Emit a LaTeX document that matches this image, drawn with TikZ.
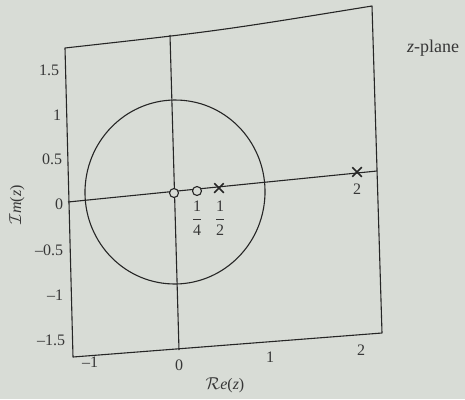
\documentclass[tikz,border=0pt]{standalone}
\usepackage{amsmath}
\usepackage{fontspec}
\setmainfont{Liberation Serif}
\usetikzlibrary{shapes.misc}
\definecolor{bgcol}{RGB}{216,220,214}
\definecolor{inkcol}{RGB}{38,38,38}
\definecolor{txtcol}{RGB}{55,55,55}
\begin{document}
\begin{tikzpicture}[x=1pt,y=-1pt,
  ink/.style={draw=inkcol,line width=1.1pt},
  lbl/.style={text=txtcol,font=\fontsize{16}{19}\selectfont,inner sep=0pt},
  zeromark/.style={circle,draw=inkcol,line width=1.1pt,fill=bgcol,minimum size=9pt,inner sep=0pt},
  polemark/.style={cross out,draw=inkcol,line width=1.5pt,minimum size=8pt,inner sep=0pt}]
\fill[bgcol] (0,0) rectangle (465,399);
\useasboundingbox (0,0) rectangle (465,399);
% frame corners
\coordinate (tl) at (65,48);
\coordinate (tr) at (372,6);
\coordinate (br) at (382,333);
\coordinate (bl) at (73,357);
\draw[ink,line join=round] (tl) .. controls (218,31) .. (tr) -- (br) -- (bl) -- cycle;
% axes
\coordinate (vt) at (170,35);
\coordinate (vb) at (179,350);
\coordinate (hl) at (68,202);
\coordinate (hr) at (377,171);
\draw[ink] (vt) -- (vb);
\draw[ink] (hl) -- (hr);
% unit circle
\draw[ink] (175,192) ellipse [x radius=90pt, y radius=92pt, rotate=-5];
% zeros and poles
\node[zeromark] (z0) at (174,193) {};
\node[zeromark] (z1) at (197,191) {};
\node[polemark] (p1) at (219,188) {};
\node[polemark] (p2) at (357,172) {};
\node[lbl] (f14) at (197,218) {$\dfrac{\text{1}}{\text{4}}$};
\node[lbl] (f12) at (220,218) {$\dfrac{\text{1}}{\text{2}}$};
\node[lbl] (l2) at (357,189) {2};
% y tick labels
\node[lbl] (y15) at (49,70) {1.5};
\node[lbl] (y1) at (57,115) {1};
\node[lbl] (y05) at (52,159) {0.5};
\node[lbl] (y0) at (59,204) {0};
\node[lbl] (ym05) at (49,250) {\textendash0.5};
\node[lbl] (ym1) at (55,295) {\textendash1};
\node[lbl] (ym15) at (51,340) {\textendash1.5};
% x tick labels
\node[lbl] (xm1) at (90,362) {\textendash1};
\node[lbl] (x0) at (179,365) {0};
\node[lbl] (x1) at (270,357) {1};
\node[lbl] (x2) at (361,350) {2};
% axis titles
\node[lbl] (re) at (225,385) {$\mathcal{R}$\textit{e}(\textit{z})};
\node[lbl,rotate=90] (im) at (17,205) {$\mathcal{I}$\textit{m}(\textit{z})};
\node[lbl,font=\fontsize{18}{21}\selectfont,anchor=west] (zp) at (407,48) {\textit{z}-plane};
\end{tikzpicture}
\end{document}
